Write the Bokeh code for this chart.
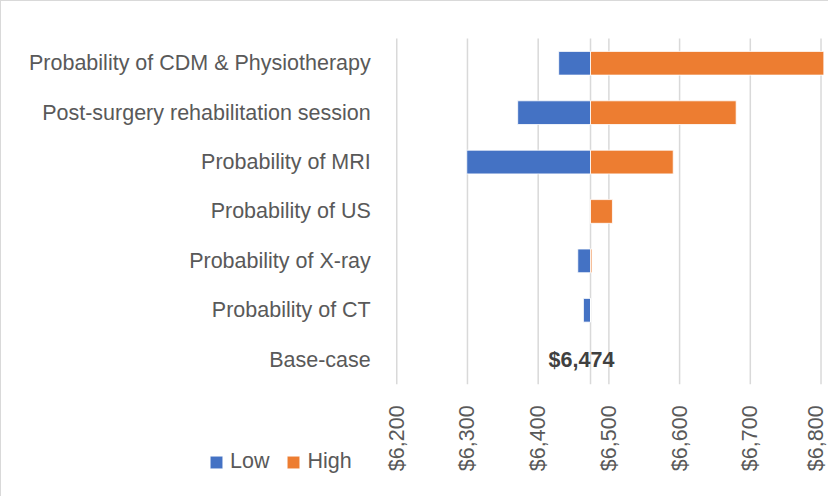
import math
from bokeh.plotting import figure
from bokeh.models import (Range1d, FixedTicker, NumeralTickFormatter,
                          Legend, LegendItem, ColumnDataSource)
from bokeh.core.properties import value
from bokeh.embed import file_html
from bokeh.resources import INLINE

# ---- data ----
categories = ["Probability of CDM & Physiotherapy",
              "Post-surgery rehabilitation session",
              "Probability of MRI",
              "Probability of US",
              "Probability of X-ray",
              "Probability of CT",
              "Base-case"]
base_value = 6474
low_values = [6429, 6371, 6299, 6474, 6456, 6464]
high_values = [6804, 6680, 6591, 6505, 6476, 6474]
tick_values = [6200, 6300, 6400, 6500, 6600, 6700, 6800]

FONT = value("Liberation Sans")
TXT = "#595959"
BLUE = "#4472C4"
ORANGE = "#ED7D31"
GRID = "#D9D9D9"

# numeric row positions (top row first)
n = len(categories)
row_pos = [n - 1 - i for i in range(n)]
bar_pos = row_pos[:-1]
base_pos = row_pos[-1]

p = figure(width=828, height=496, output_backend="svg", toolbar_location=None,
           x_range=Range1d(5641, 6812), y_range=Range1d(-2.79, 7.25),
           min_border_left=0, min_border_right=0,
           min_border_top=0, min_border_bottom=0)
p.outline_line_color = None
p.background_fill_color = "white"
p.border_fill_color = "white"
p.grid.grid_line_color = None

lo, hi = min(row_pos) - 0.5, max(row_pos) + 0.5

# gridlines (only across the bar area)
p.segment(x0=tick_values, x1=tick_values, y0=[lo] * len(tick_values),
          y1=[hi] * len(tick_values), line_color=GRID, line_width=1.5)
# base line
p.segment(x0=[base_value], x1=[base_value], y0=[lo], y1=[hi],
          line_color=GRID, line_width=1.5)

src = ColumnDataSource(dict(pos=bar_pos, low=low_values, high=high_values,
                            base=[base_value] * len(bar_pos)))
r_low = p.hbar(y="pos", left="low", right="base", height=0.48, source=src,
               fill_color=BLUE, line_color="white", line_width=0.8)
r_high = p.hbar(y="pos", left="base", right="high", height=0.48, source=src,
                fill_color=ORANGE, line_color="white", line_width=0.8)

# base-case label
p.text(x=[base_value], y=[base_pos], text=[f"${base_value:,}"],
       text_font=FONT, text_font_size="21.5px", text_font_style="bold",
       text_color="#404040", text_align="center", text_baseline="middle",
       x_offset=-9)

# x axis pinned under the bar area
xa = p.xaxis[0]
xa.fixed_location = lo
xa.ticker = FixedTicker(ticks=tick_values)
xa.formatter = NumeralTickFormatter(format="$0,0")
xa.major_label_orientation = math.pi / 2
xa.major_label_text_font = "Liberation Sans"
xa.major_label_text_font_size = "21.5px"
xa.major_label_text_color = TXT
xa.axis_line_color = None
xa.major_tick_line_color = None
xa.minor_tick_line_color = None
xa.major_label_standoff = 15

# y axis pinned at the left edge of the bar area
ya = p.yaxis[0]
ya.fixed_location = tick_values[0]
ya.ticker = FixedTicker(ticks=row_pos)
ya.major_label_overrides = {pos: name for pos, name in zip(row_pos, categories)}
ya.major_label_text_font = "Liberation Sans"
ya.major_label_text_font_size = "21.5px"
ya.major_label_text_color = TXT
ya.axis_line_color = None
ya.major_tick_line_color = None
ya.minor_tick_line_color = None
ya.major_label_standoff = 20

legend = Legend(items=[LegendItem(label="Low", renderers=[r_low]),
                       LegendItem(label="High", renderers=[r_high])],
                orientation="horizontal", location=(207, 23),
                label_text_font="Liberation Sans", label_text_font_size="21.5px",
                label_text_color=TXT, glyph_width=16, glyph_height=16,
                label_standoff=6, spacing=16, padding=0, margin=0,
                border_line_color=None, background_fill_alpha=0)
p.add_layout(legend, "center")

p.styles = {"border-left": "1px solid #D9D9D9", "border-top": "1px solid #D9D9D9",
            "box-sizing": "border-box"}

open("out.html", "w").write(file_html(p, INLINE))
